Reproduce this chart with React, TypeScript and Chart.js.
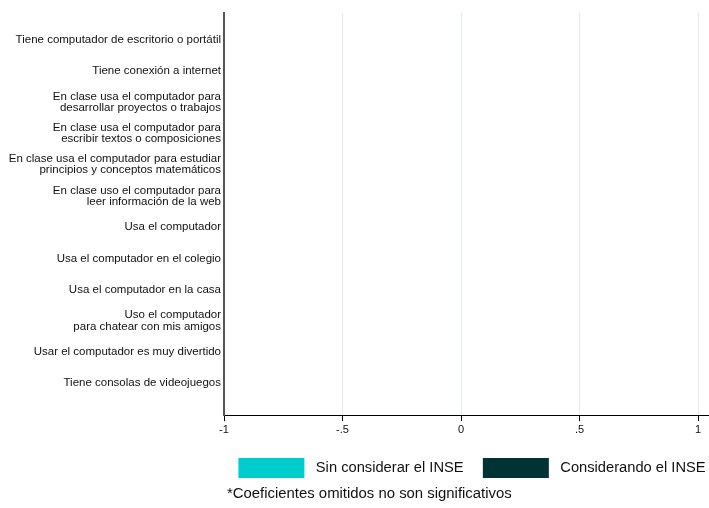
import React, { useEffect, useRef } from "react";
import { Chart, registerables } from "chart.js";

Chart.register(...registerables);

const FONT = "'Liberation Sans', Arial, Helvetica, sans-serif";

const categories: (string | string[])[] = [
  "Tiene computador de escritorio o portátil",
  "Tiene conexión a internet",
  ["En clase usa el computador para", "desarrollar proyectos o trabajos"],
  ["En clase usa el computador para", "escribir textos o composiciones"],
  ["En clase usa el computador para estudiar", "principios y conceptos matemáticos"],
  ["En clase uso el computador para", "leer información de la web"],
  "Usa el computador",
  "Usa el computador en el colegio",
  "Usa el computador en la casa",
  ["Uso el computador", "para chatear con mis amigos"],
  "Usar el computador es muy divertido",
  "Tiene consolas de videojuegos",
];

// Coefficients not significant are omitted (no bars visible in the reference)
const sinInse: (number | null)[] = [null, null, null, null, null, null, null, null, null, null, null, null];
const conInse: (number | null)[] = [null, null, null, null, null, null, null, null, null, null, null, null];

const seriesNames = ["Sin considerar el INSE", "Considerando el INSE"];
const seriesColors = ["#00CCCC", "#003333"];
const xTicks = [-1, -0.5, 0, 0.5, 1];
const footnote = "\u2009*Coeficientes omitidos no son significativos";

function fmt(v: number): string {
  if (v === 0) return "0";
  const s = String(Math.abs(v)).replace(/^0/, "");
  return (v < 0 ? "-" : "") + s;
}

const shiftLegend = {
  id: "shiftLegend",
  beforeDraw(c: any) {
    if (c.legend && c.chartArea) {
      c.legend.left = c.chartArea.left + 5.5;
      c.legend.right = c.chartArea.right + 5.5;
    }
  },
};

export default function App() {
  const ref = useRef<HTMLCanvasElement | null>(null);

  useEffect(() => {
    if (!ref.current) return;
    Chart.defaults.font.family = FONT;
    const chart = new Chart(ref.current, {
      type: "bar",
      data: {
        datasets: [
          {
            label: seriesNames[0],
            data: sinInse.map((v, i) => ({ x: v, y: i })) as any,
            backgroundColor: seriesColors[0],
            borderWidth: 0,
          },
          {
            label: seriesNames[1],
            data: conInse.map((v, i) => ({ x: v, y: i })) as any,
            backgroundColor: seriesColors[1],
            borderWidth: 0,
          },
        ],
      },
      plugins: [shiftLegend],
      options: {
        indexAxis: "y",
        responsive: false,
        animation: false,
        layout: { padding: { top: 13, right: 0, bottom: 5, left: 0 } },
        scales: {
          x: {
            type: "linear",
            min: -1,
            max: 1.046,
            offset: false,
            afterBuildTicks: (s: any) => {
              s.ticks = xTicks.map((v) => ({ value: v }));
            },
            afterFit: (s: any) => {
              s.height = 43;
            },
            grid: { color: "#e3ecec", lineWidth: 1, tickColor: "#000", tickLength: 6, drawTicks: true, offset: false },
            border: { display: true, color: "#000", width: 1 },
            ticks: {
              padding: 2,
              color: "#111",
              font: { size: 11, family: FONT },
              autoSkip: false,
              maxRotation: 0,
              callback: (v: any) => fmt(Number(v)),
            },
          },
          y: {
            type: "linear",
            reverse: true,
            offset: false,
            min: -0.86,
            max: 12.02,
            afterBuildTicks: (s: any) => {
              s.ticks = categories.map((_, i) => ({ value: i }));
            },
            afterFit: (s: any) => {
              s.width = 224;
            },
            grid: { display: false, drawTicks: false, offset: false },
            border: { display: true, color: "#555", width: 2 },
            ticks: {
              padding: 3,
              color: "#111",
              autoSkip: false,
              font: { size: 11.5, family: FONT, lineHeight: 0.96 },
              callback: (v: any) => categories[Number(v)] ?? "",
            },
          },
        },
        plugins: {
          tooltip: { enabled: false },
          legend: {
            position: "bottom",
            fullSize: false,
            labels: {
              boxWidth: 66,
              boxHeight: 20,
              padding: 0,
              color: "#111",
              font: { size: 14.7, family: FONT },
              generateLabels: (c: any) =>
                (Chart.defaults.plugins.legend.labels as any)
                  .generateLabels(c)
                  .map((l: any, i: number) => ({
                    ...l,
                    lineWidth: 0,
                    text: i === 0 ? ` ${l.text}    \u2009` : ` ${l.text}`,
                  })),
            },
          },
          subtitle: {
            display: true,
            text: footnote,
            position: "bottom",
            align: "start",
            fullSize: false,
            color: "#111",
            font: { size: 14.9, family: FONT, weight: "normal" },
            padding: { top: -3, bottom: 0 },
          },
        },
      } as any,
    });
    return () => chart.destroy();
  }, []);

  return (
    <div style={{ position: "fixed", left: 0, top: 0, width: 709, height: 508, background: "#fff" }}>
      <canvas ref={ref} width={709} height={508} />
    </div>
  );
}
